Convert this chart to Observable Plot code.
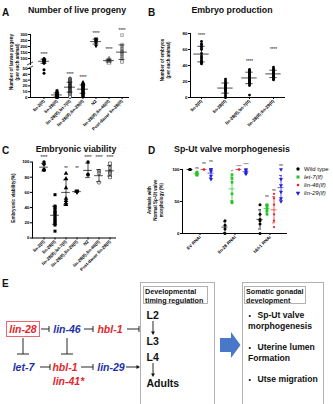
<!DOCTYPE html>
<html>
<head>
<meta charset="utf-8">
<script src="https://cdn.jsdelivr.net/npm/d3@7"></script>
<script src="https://cdn.jsdelivr.net/npm/@observablehq/plot@0.6"></script>
<style>
  body { margin: 0; background: #fff; }
  #fig { position: relative; width: 333px; height: 404px; overflow: hidden; background: #fff;
         font-family: Arial, "Liberation Sans", Helvetica, sans-serif; }
  #fig > svg { position: absolute; left: 0; top: 0; }
</style>
</head>
<body>
<div id="fig"></div>
<script>
const fontFamily = 'Arial, "Liberation Sans", Helvetica, sans-serif';

// ---------- A: number of live progeny per animal ----------
const strainsA = ["lin-2(lf)", "lin-28(lf)", "lin-28(lf);let-7(lf)", "lin-28(lf);lin-29(lf)",
                  "N2", "lin-28(lf);lin-46(lf)", "Post-dauer lin-28(lf)"];
const liveProgeny = [
  [100, 96, 92, 90, 88, 85, 82, 80, 78, 75, 72, 65, 60, 48, 42],
  [12, 10, 9, 8, 7, 6, 6, 5, 5, 4, 4, 3, 3, 2, 2, 1, 1, 0, 0, 0],
  [33, 32, 31, 30, 29, 28, 27, 26, 25, 24, 23, 22, 22, 21, 20, 20, 19, 18, 18, 17, 17, 16,
   15, 15, 14, 13, 12, 12, 11, 10, 9, 8, 7, 6, 5, 3, 1],
  [26, 25, 24, 23, 22, 21, 20, 19, 18, 17, 16, 15, 15, 14, 13, 12, 11, 10, 9, 8, 7, 6, 5, 3, 1],
  [265, 258, 250, 245, 238, 225, 205],
  [100, 95, 92, 88, 85, 82, 80, 78, 75, 70, 62],
  [295, 215, 195, 180, 165, 155, 150, 140, 130, 115, 100, 80, 70]
];
const starsA = ["****", "", "****", "****", "****", "****", "****"];
const starHeightA = [130, null, 40, 35, 312, 172, 335];

// ---------- B: embryo production ----------
const strainsB = strainsA.slice(0, 4);
const embryos = [
  [70, 67, 66, 64, 62, 60, 55, 52, 50, 48, 46, 45, 44, 43, 42],
  [23, 21, 19, 17, 16, 15, 14, 13, 12, 12, 11, 10, 9, 8, 6, 4, 2, 0],
  [35, 34, 33, 32, 31, 30, 29, 28, 28, 27, 26, 25, 25, 24, 23, 22, 22, 21, 20, 19, 18, 17, 15, 3],
  [38, 36, 35, 34, 33, 32, 31, 30, 30, 29, 28, 28, 27, 26, 25, 24, 23, 22]
];
const starsB = ["****", "", "****", "****"];
const starHeightB = [78, null, 45, 60];

// ---------- C: embryonic viability (%) ----------
const viability = [
  [100, 97, 90, 89, 90],
  [57, 42, 40, 38, 35, 34, 32, 30, 27, 25, 23, 21, 19, 17, 9],
  [85, 78, 66, 52, 49, 46, 44],
  [60, 61, 62],
  [100, 84, 83],
  [88, 85, 73],
  [98, 92, 87, 85, 80]
];
const starsC = ["****", "", "**", "**", "****", "****", "****"];
const starHeightC = [106, null, 91, 91, 106, 106, 106];

// ---------- D: Sp-Ut valve morphogenesis ----------
const rnaiD = ["EV RNAi", "lin-28 RNAi", "hbl-1 RNAi"];
const genotypesD = ["Wild type", "let-7(lf)", "lin-46(lf)", "lin-29(lf)"];
const valveEV    = [[100, 100, 100, 100], [96, 94, 92, 91], [100, 100, 100], [100, 100, 97, 90, 85]];
const valveLin28 = [[20, 13, 7, 0], [92, 86, 80, 62, 50, 48], [100, 100, 100], [100, 98, 95, 93]];
const valveHbl1  = [[45, 30, 22, 20, 15, 0], [45, 44, 42, 38, 35, 30], [62, 55, 45, 30, 20, 10], [100, 85, 75, 65, 55, 50]];
const signifD = [
  ["EV RNAi", "let-7(lf)", "ns", 102], ["EV RNAi", "lin-46(lf)", "ns", 110], ["EV RNAi", "lin-29(lf)", "ns", 113],
  ["lin-28 RNAi", "let-7(lf)", "**", 96], ["lin-28 RNAi", "lin-46(lf)", "****", 104], ["lin-28 RNAi", "lin-29(lf)", "****", 107],
  ["hbl-1 RNAi", "let-7(lf)", "ns", 58], ["hbl-1 RNAi", "lin-46(lf)", "ns", 68], ["hbl-1 RNAi", "lin-29(lf)", "ns", 107]
];

// downward-pointing triangle symbol
const triangleDown = {
  draw(ctx, size) {
    const a = Math.sqrt(4 * size / Math.sqrt(3)), h = a * Math.sqrt(3) / 2;
    ctx.moveTo(-a / 2, -h / 3); ctx.lineTo(a / 2, -h / 3); ctx.lineTo(0, 2 * h / 3); ctx.closePath();
  }
};

const fig = document.getElementById("fig");
const baseStyle = { background: "transparent", fontFamily, fontSize: "4.4px", fontWeight: "bold", overflow: "visible" };

// dot plot with mean ± SD bars
function scatter(o) {
  const rows = o.cats.flatMap((c, i) => o.values[i].map(v => ({ cat: c, v })));
  const keep = o.keep || (() => true);
  const stats = o.cats.map((c, i) => {
    const m = d3.mean(o.values[i]), s = d3.deviation(o.values[i]) || 0;
    return { cat: c, mean: m, lo: m - s, hi: m + s };
  }).filter(d => keep(d.mean));
  const stars = o.cats.map((c, i) => ({ cat: c, label: o.stars[i], y: o.starY[i] }))
    .filter(d => d.label && keep(d.y));
  const step = (o.xRange[1] - o.xRange[0]) / o.cats.length;
  const meanInset = (step - o.meanLen) / 2, capInset = (step - o.capLen) / 2;
  const bar = { strokeWidth: 0.7, clip: !!o.clip };
  return Plot.plot({
    width: 333, height: 404,
    marginLeft: o.ml, marginRight: o.mr, marginTop: o.mt, marginBottom: o.mb,
    style: baseStyle,
    x: { type: "band", domain: o.cats, range: o.xRange, padding: 0, axis: o.showX ? "bottom" : null,
         tickRotate: -45, tickSize: 2, tickPadding: 1, label: null },
    y: { domain: o.yDomain, ticks: o.yTicks, tickSize: 2, tickPadding: 1, label: null, line: true },
    marks: [
      o.showX ? Plot.ruleY([o.yDomain[0]], { strokeWidth: 1 }) : null,
      ...o.cats.map((c, i) => Plot.dot(rows.filter(d => d.cat === c && keep(d.v)), {
        x: "cat", y: "v", symbol: o.symbols[i], r: o.r,
        fill: o.fills[i], stroke: o.strokes[i], strokeWidth: 0.5
      })),
      Plot.ruleX(stats, { x: "cat", y1: "lo", y2: "hi", ...bar }),
      Plot.tickY(stats, { x: "cat", y: "mean", insetLeft: meanInset, insetRight: meanInset, ...bar }),
      Plot.tickY(stats, { x: "cat", y: "lo", insetLeft: capInset, insetRight: capInset, ...bar }),
      Plot.tickY(stats, { x: "cat", y: "hi", insetLeft: capInset, insetRight: capInset, ...bar }),
      Plot.text(stars, { x: "cat", y: "y", text: "label", fontSize: 4.5, fontWeight: "normal" })
    ]
  });
}

const symbolsA = ["circle", "square", "circle", "triangle", triangleDown, "triangle", "square"];
const fillsA = ["black", "black", "white", "black", "black", "white", "white"];
const strokesA = ["none", "none", "black", "none", "none", "#555", "#555"];

// A – upper segment (broken axis)
fig.appendChild(scatter({
  cats: strainsA, values: liveProgeny, stars: starsA, starY: starHeightA,
  keep: v => v > 50, clip: true,
  ml: 30, mr: 204, mt: 34, mb: 340, xRange: [36.4, 128.6],
  yDomain: [50, 300], yTicks: [100, 150, 200, 250, 300], showX: false,
  symbols: symbolsA, fills: fillsA, strokes: strokesA, r: 1.5, meanLen: 11, capLen: 6
}));
// A – lower segment
fig.appendChild(scatter({
  cats: strainsA, values: liveProgeny, stars: starsA, starY: starHeightA,
  keep: v => v <= 50, clip: true,
  ml: 30, mr: 204, mt: 68, mb: 307, xRange: [36.4, 128.6],
  yDomain: [0, 50], yTicks: [0, 10, 20, 30, 40, 50], showX: true,
  symbols: symbolsA, fills: fillsA, strokes: strokesA, r: 1.5, meanLen: 11, capLen: 6
}));

// B
fig.appendChild(scatter({
  cats: strainsB, values: embryos, stars: starsB, starY: starHeightB,
  ml: 190, mr: 48, mt: 33, mb: 307, xRange: [187.7, 286.3],
  yDomain: [0, 80], yTicks: [0, 20, 40, 60, 80], showX: true,
  symbols: ["circle", "square", "circle", "circle"], fills: ["black", "black", "black", "black"],
  strokes: ["none", "none", "none", "none"], r: 1.4, meanLen: 16, capLen: 8
}));

// C
fig.appendChild(scatter({
  cats: strainsA, values: viability, stars: starsC, starY: starHeightC,
  ml: 32, mr: 217, mt: 161.5, mb: 166.5, xRange: [36.3, 115.7],
  yDomain: [0, 100], yTicks: [0, 20, 40, 60, 80, 100], showX: true,
  symbols: ["circle", "square", "triangle", triangleDown, "circle", "circle", "square"],
  fills: ["black", "black", "black", "black", "black", "white", "white"],
  strokes: ["none", "none", "none", "none", "none", "black", "black"], r: 1.7, meanLen: 9, capLen: 5
}));

// D – grouped by RNAi treatment
const colorsD = ["#000000", "#22c322", "#ee1c1c", "#2222d8"];
const symbolsD = ["circle", "square", "circle", triangleDown];
const valveByRnai = [valveEV, valveLin28, valveHbl1];
const rowsD = rnaiD.flatMap((g, gi) => genotypesD.flatMap((s, si) =>
  valveByRnai[gi][si].map(v => ({ rnai: g, genotype: s, v }))));
const statsD = rnaiD.flatMap((g, gi) => genotypesD.map((s, si) => {
  const vals = valveByRnai[gi][si], m = d3.mean(vals), sd = d3.deviation(vals) || 0;
  return { rnai: g, genotype: s, mean: m, lo: m - sd, hi: Math.min(100, m + sd), color: colorsD[si] };
}));
const signifRows = signifD.map(([rnai, genotype, label, y]) => ({ rnai, genotype, label, y }));
const stepD = 105 / 3 / (genotypesD.length + 0.6);
fig.appendChild(Plot.plot({
  width: 333, height: 404, marginLeft: 182, marginRight: 46, marginTop: 169, marginBottom: 171,
  style: baseStyle,
  fx: { domain: rnaiD, padding: 0, axis: "bottom", tickRotate: -45, tickSize: 2, tickPadding: 1, label: null },
  x: { domain: genotypesD, padding: 0, paddingOuter: 0.3, axis: null },
  y: { domain: [0, 100], ticks: [0, 50, 100], tickSize: 2, tickPadding: 1, label: null, line: true },
  color: { type: "identity" },
  marks: [
    Plot.ruleY([0], { strokeWidth: 1 }),
    ...genotypesD.map((s, si) => Plot.dot(rowsD.filter(d => d.genotype === s), {
      fx: "rnai", x: "genotype", y: "v", symbol: symbolsD[si], r: si === 2 ? 1.1 : 1.5,
      fill: colorsD[si], stroke: "none"
    })),
    Plot.ruleX(statsD, { fx: "rnai", x: "genotype", y1: "lo", y2: "hi", stroke: "color", strokeWidth: 0.7 }),
    Plot.tickY(statsD, { fx: "rnai", x: "genotype", y: "mean", stroke: "color", strokeWidth: 0.7, insetLeft: 0.5, insetRight: 0.5 }),
    Plot.tickY(statsD, { fx: "rnai", x: "genotype", y: "lo", stroke: "color", strokeWidth: 0.7, insetLeft: 2, insetRight: 2 }),
    Plot.tickY(statsD, { fx: "rnai", x: "genotype", y: "hi", stroke: "color", strokeWidth: 0.7, insetLeft: 2, insetRight: 2 }),
    Plot.text(signifRows, { fx: "rnai", x: "genotype", y: "y", text: "label", fontSize: 3.4, fontWeight: "normal" })
  ]
}));

// ---------- titles, axis titles, legend and diagram ----------
const svg = d3.select(fig).append("svg").attr("width", 333).attr("height", 404)
  .style("font-family", fontFamily);

function label(x, y, str, o = {}) {
  const t = svg.append("text").attr("x", x).attr("y", y).text(str)
    .attr("font-size", o.size || 5).attr("font-weight", o.weight || "bold")
    .attr("font-style", o.italic ? "italic" : "normal")
    .attr("fill", o.color || "#111").attr("text-anchor", o.anchor || "start");
  if (o.rotate) t.attr("transform", `rotate(${o.rotate},${x},${y})`);
  return t;
}

// panel letters and titles
label(2, 16, "A", { size: 10 });
label(148, 16, "B", { size: 10 });
label(2, 154, "C", { size: 10 });
label(148, 154, "D", { size: 10 });
label(2, 287, "E", { size: 10 });
label(77, 13, "Number of live progeny", { size: 8.8, anchor: "middle" });
label(232, 13, "Embryo production", { size: 8.8, anchor: "middle" });
label(76, 152, "Embryonic viability", { size: 8.8, anchor: "middle" });
label(232, 152, "Sp-Ut valve morphogenesis", { size: 8.8, anchor: "middle" });

// y-axis titles
label(13, 62, "Number of larvae progeny", { size: 4.5, anchor: "middle", rotate: -90 });
label(18.5, 62, "(per each animal)", { size: 4.5, anchor: "middle", rotate: -90 });
label(164, 60, "Number of embryos", { size: 4.5, anchor: "middle", rotate: -90 });
label(169.5, 60, "(per each animal)", { size: 4.5, anchor: "middle", rotate: -90 });
label(15, 198, "Embryonic viability(%)", { size: 4.6, anchor: "middle", rotate: -90 });
label(151, 200, "Animals with", { size: 4.5, anchor: "middle", rotate: -90 });
label(157, 200, "Normal Sp-Ut valve", { size: 4.5, anchor: "middle", rotate: -90 });
label(163, 200, "morphology (%)", { size: 4.5, anchor: "middle", rotate: -90 });

// axis break marks on panel A
[[63.5], [67.5]].forEach(([y]) => {
  svg.append("line").attr("x1", 27).attr("x2", 33).attr("y1", y + 1.5).attr("y2", y - 1.5)
    .attr("stroke", "#111").attr("stroke-width", 0.8);
});

// legend for D
genotypesD.forEach((g, i) => {
  const y = 169 + i * 8;
  svg.append("path").attr("transform", `translate(298,${y})`)
    .attr("d", d3.symbol().type(symbolsD[i] === "circle" ? d3.symbolCircle :
                               symbolsD[i] === "square" ? d3.symbolSquare : symbolsD[i])
                 .size(i === 2 ? 5 : 9)())
    .attr("fill", colorsD[i]);
  label(304, y + 2, g, { size: 6, weight: "normal", italic: i > 0 });
});

// ---------- E: regulatory diagram ----------
const red = "#e3262d", blue = "#2231a8";
const line = (x1, y1, x2, y2, c = "#111", w = 0.9) =>
  svg.append("line").attr("x1", x1).attr("y1", y1).attr("x2", x2).attr("y2", y2)
    .attr("stroke", c).attr("stroke-width", w);
function inhibitH(x1, x2, y) { line(x1, y, x2, y); line(x2, y - 3, x2, y + 3); }
function inhibitV(x, y1, y2) { line(x, y1, x, y2); line(x - 6, y2, x + 6, y2); }
function arrowH(x1, x2, y) {
  line(x1, y, x2 - 2, y);
  svg.append("path").attr("d", `M${x2},${y} L${x2 - 3.5},${y - 2} L${x2 - 3.5},${y + 2} Z`).attr("fill", "#111");
}
function arrowV(x, y1, y2) {
  line(x, y1, x, y2 - 2);
  svg.append("path").attr("d", `M${x},${y2} L${x - 2},${y2 - 3.5} L${x + 2},${y2 - 3.5} Z`).attr("fill", "#111");
}

const gene = { size: 10.5, italic: true, anchor: "middle" };
svg.append("rect").attr("x", 6.5).attr("y", 321.5).attr("width", 33).attr("height", 15)
  .attr("fill", "none").attr("stroke", "#e9686d").attr("stroke-width", 1);
label(23, 332.5, "lin-28", { ...gene, color: red });
inhibitH(41, 49, 329);
label(67, 332.5, "lin-46", { ...gene, color: blue });
inhibitH(84, 93, 329);
label(110, 332.5, "hbl-1", { ...gene, color: red });
inhibitH(127, 139, 329);
inhibitV(23, 338, 354);
inhibitV(67, 338, 354);
label(23.5, 370.5, "let-7", { ...gene, color: blue });
inhibitH(40, 50, 367);
label(65, 370.5, "hbl-1", { ...gene, color: red });
label(68.5, 384.5, "lin-41*", { ...gene, color: red });
inhibitH(81, 93, 367);
label(111, 370.5, "lin-29", { ...gene, color: blue });
arrowH(126, 140, 367);

// developmental timing box
svg.append("rect").attr("x", 140.5).attr("y", 282.5).attr("width", 74).attr("height", 125)
  .attr("fill", "none").attr("stroke", "#aaa").attr("stroke-width", 0.9);
svg.append("rect").attr("x", 143.5).attr("y", 286.5).attr("width", 64).attr("height", 17)
  .attr("fill", "none").attr("stroke", "#aaa").attr("stroke-width", 0.9);
label(145, 294.3, "Developmental", { size: 7.2 });
label(145, 302.5, "timing regulation", { size: 7.2 });
label(146.5, 318.5, "L2", { size: 10.5 });
arrowV(153, 321, 335);
label(146.5, 344.5, "L3", { size: 10.5 });
label(146.5, 360.5, "L4", { size: 10.5 });
arrowV(153, 363, 377);
label(146.5, 387, "Adults", { size: 10.5 });

// block arrow
svg.append("path").attr("d", "M220,338 L231,338 L231,332 L240.5,345 L231,358 L231,352 L220,352 Z")
  .attr("fill", "#4a78c8");

// somatic gonad box
svg.append("rect").attr("x", 242.5).attr("y", 282.5).attr("width", 81).attr("height", 125)
  .attr("fill", "none").attr("stroke", "#aaa").attr("stroke-width", 0.9);
svg.append("rect").attr("x", 244.5).attr("y", 286.5).attr("width", 61).attr("height", 17)
  .attr("fill", "none").attr("stroke", "#aaa").attr("stroke-width", 0.9);
label(246, 294.3, "Somatic gonadal", { size: 7.2 });
label(246, 302.5, "development", { size: 7.2 });
label(248.5, 318, "•", { size: 7 });
label(257.5, 318, "Sp-Ut valve", { size: 8.6 });
label(248, 329, "morphogenesis", { size: 8.6 });
label(248.5, 350, "•", { size: 7 });
label(257.5, 350, "Uterine lumen", { size: 8.6 });
label(248, 361, "Formation", { size: 8.6 });
label(248.5, 382, "•", { size: 7 });
label(257.5, 382, "Utse migration", { size: 8.6 });
</script>
</body>
</html>
